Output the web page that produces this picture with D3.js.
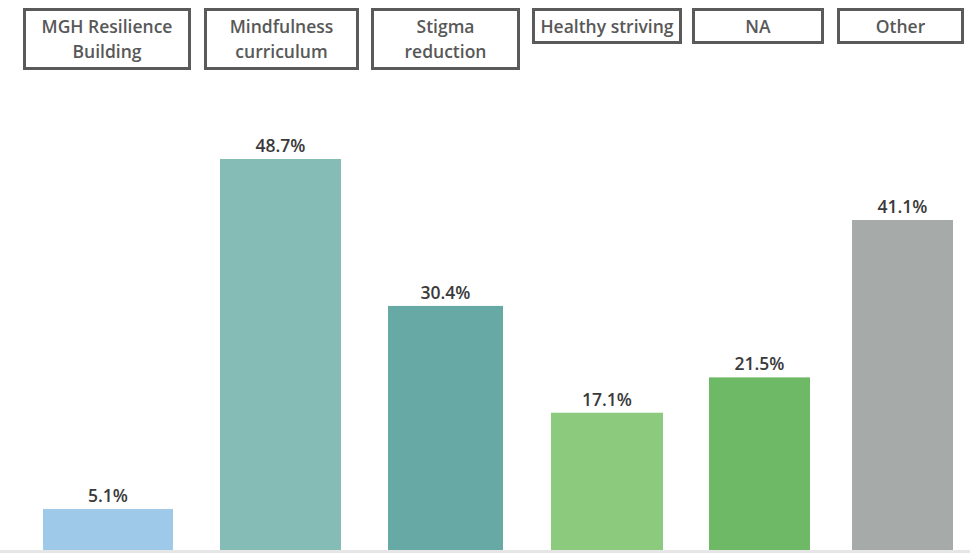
<!DOCTYPE html>
<html><head><meta charset="utf-8">
<script src="https://cdn.jsdelivr.net/npm/d3@7"></script>
<style>html,body{margin:0;padding:0;background:#fff;}svg{display:block;}</style>
</head><body>
<svg id="chart" width="970" height="553"></svg>
<script>
// ---- data ----
const categories = ["MGH Resilience Building","Mindfulness curriculum","Stigma reduction","Healthy striving","NA","Other"];
const headerLines = [["MGH Resilience","Building"],["Mindfulness","curriculum"],["Stigma","reduction"],["Healthy striving"],["NA"],["Other"]];
const values = [5.1, 48.7, 30.4, 17.1, 21.5, 41.1];
const valueLabels = ["5.1%","48.7%","30.4%","17.1%","21.5%","41.1%"];
const colors = ["#9fc9e8","#86bcb6","#67a9a4","#8ccb7e","#6eb966","#a6aaa9"];

// ---- layout (not data) ----
const boxLeft = [23,204,371,532,692,837];
const boxRight = [191,359,520,682,824,964];
const barLeft = [43,220,388,551,709,852];
const barRight = [173,341,503,663,810,953];

const svg = d3.select("#chart");
const xBoxL = d3.scaleOrdinal().domain(categories).range(boxLeft);
const xBoxR = d3.scaleOrdinal().domain(categories).range(boxRight);
const xBarL = d3.scaleOrdinal().domain(categories).range(barLeft);
const xBarR = d3.scaleOrdinal().domain(categories).range(barRight);
const color = d3.scaleOrdinal().domain(categories).range(colors);
const y = d3.scaleLinear().domain([0, 48.7]).range([550, 159]);

const data = categories.map((c,i)=>({cat:c, v:values[i], label:valueLabels[i], lines:headerLines[i]}));

// baseline
svg.append("rect").attr("x",0).attr("y",550).attr("width",970).attr("height",3).attr("fill","#e6e6e6");

// bars
svg.selectAll("rect.bar").data(data).join("rect").attr("class","bar")
  .attr("x",d=>xBarL(d.cat)).attr("width",d=>xBarR(d.cat)-xBarL(d.cat))
  .attr("y",d=>y(d.v)).attr("height",d=>y(0)-y(d.v))
  .attr("fill",d=>color(d.cat));

// value labels
svg.selectAll("text.val").data(data).join("text").attr("class","val")
  .attr("x",d=>(xBarL(d.cat)+xBarR(d.cat))/2).attr("y",d=>y(d.v)-7)
  .attr("text-anchor","middle")
  .style("font-family","'Open Sans', sans-serif").style("font-weight",600).style("font-size","17.5px")
  .attr("fill","#3a3a3a").text(d=>d.label);

// header boxes
const hdr = svg.selectAll("g.hdr").data(data).join("g").attr("class","hdr");
hdr.append("rect")
  .attr("x",d=>xBoxL(d.cat)+1.5).attr("y",9.5)
  .attr("width",d=>xBoxR(d.cat)-xBoxL(d.cat)-3)
  .attr("height",d=>d.lines.length>1?59:33)
  .attr("fill","#fff").attr("stroke","#5a5a5a").attr("stroke-width",3);
hdr.each(function(d){
  const g = d3.select(this);
  const cx = (xBoxL(d.cat)+xBoxR(d.cat))/2;
  const t = g.append("text").attr("text-anchor","middle")
    .style("font-family","'Open Sans', sans-serif").style("font-weight",600).style("font-size","17.5px")
    .attr("fill","#585858");
  if (d.lines.length>1){
    t.append("tspan").attr("x",cx).attr("y",33).text(d.lines[0]);
    t.append("tspan").attr("x",cx).attr("y",58).text(d.lines[1]);
  } else {
    t.append("tspan").attr("x",cx).attr("y",33).text(d.lines[0]);
  }
});
</script>
</body></html>
